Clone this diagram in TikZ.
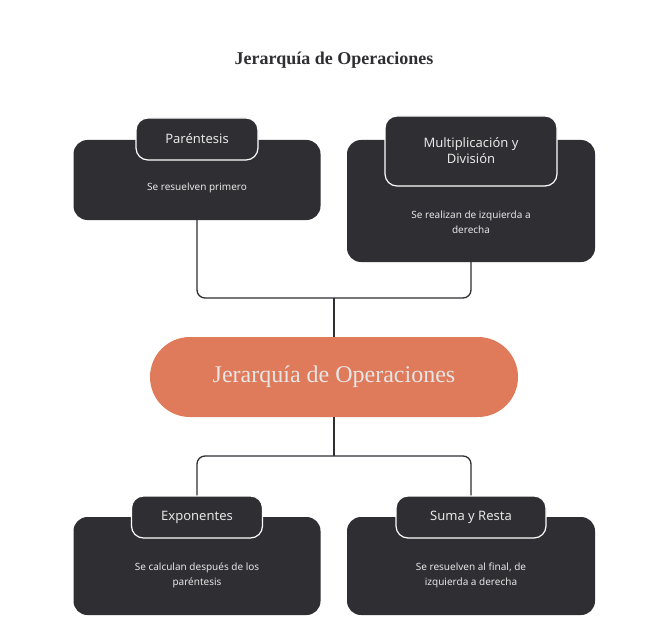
\documentclass[tikz,border=0pt]{standalone}
\usepackage{fontspec}
\setmainfont{Liberation Serif}
\setsansfont{Noto Sans}
\usetikzlibrary{positioning}
\definecolor{boxdark}{HTML}{2F2E33}
\definecolor{pill}{HTML}{DF7A5A}
\definecolor{softtext}{HTML}{E6E6E6}
\tikzset{
  card/.style={draw=none, fill=boxdark, rounded corners=14pt},
  tab/.style={draw=white, line width=1.2pt, fill=boxdark, rounded corners=12pt, text=softtext,
    font=\sffamily\fontsize{13}{16}\selectfont, align=center, inner sep=0pt},
  desc/.style={text=softtext, font=\sffamily\fontsize{10}{15}\selectfont, align=center},
  link/.style={draw=boxdark, line width=1.3pt, rounded corners=8pt}
}
\begin{document}
\begin{tikzpicture}[x=1pt, y=-1pt]
  \useasboundingbox[fill=white] (0,0) rectangle (668,631);

  % title
  \node[font=\bfseries\fontsize{18}{22}\selectfont, text=boxdark] (title) at (334,60) {Jerarquía de Operaciones};

  % central node
  \node[fill=pill, rounded corners=40pt, minimum width=368pt, minimum height=80pt,
    text=softtext, font=\fontsize{24}{28}\selectfont] (core) at (334,377) {Jerarquía de Operaciones};

  % cards
  \node[card, minimum width=247pt, minimum height=80pt] (paren) at (197,180) {};
  \node[card, minimum width=248pt, minimum height=122pt] (mult) at (471,201) {};
  \node[card, minimum width=247pt, minimum height=98pt] (expo) at (197,566) {};
  \node[card, minimum width=248pt, minimum height=98pt] (suma) at (471,566) {};

  % connectors
  \coordinate (upper) at (334,298);
  \coordinate (lower) at (334,456);
  \draw[link] (paren.south) |- (upper) -| (mult.south);
  \draw[link] (upper) -- (core.north);
  \draw[link] (core.south) -- (lower);

  % tabs
  \node[tab, minimum width=122pt, minimum height=42pt] (parenT) at (197,139) {Paréntesis};
  \node[tab, minimum width=172pt, minimum height=70pt] (multT) at (471,151) {Multiplicación y\\División};
  \node[tab, minimum width=131pt, minimum height=42pt] (expoT) at (197,517) {Exponentes};
  \node[tab, minimum width=150pt, minimum height=42pt] (sumaT) at (471,517) {Suma y Resta};

  \draw[link] (expoT.north) |- (lower) -| (sumaT.north);

  % descriptions
  \node[desc] (parenD) at (197,188) {Se resuelven primero};
  \node[desc] (multD) at (471,222) {Se realizan de izquierda a\\derecha};
  \node[desc] (expoD) at (197,575) {Se calculan después de los\\paréntesis};
  \node[desc] (sumaD) at (471,575) {Se resuelven al final, de\\izquierda a derecha};
\end{tikzpicture}
\end{document}
